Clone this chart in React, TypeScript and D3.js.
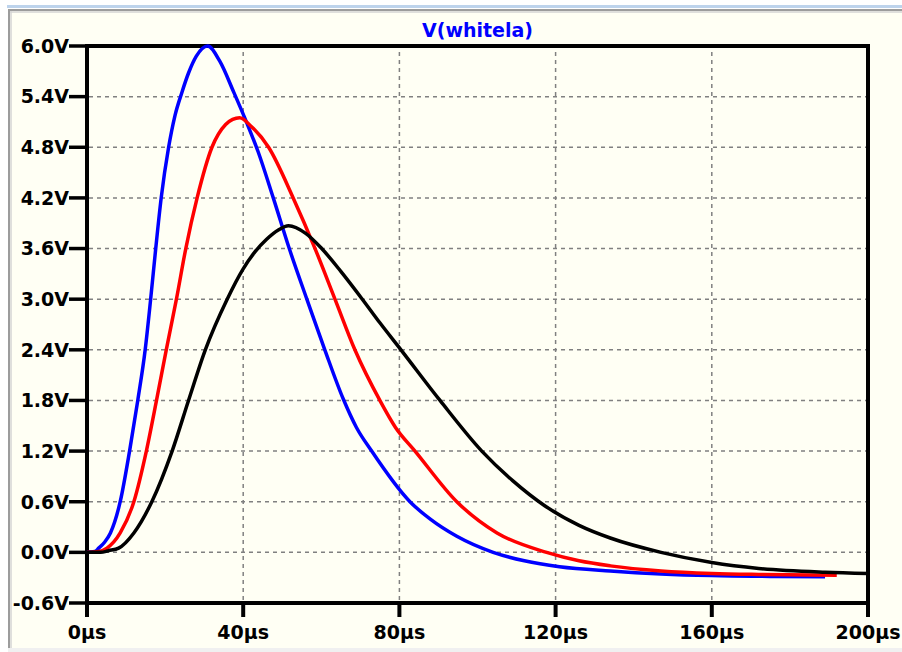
import { curveMonotoneX, line, scaleLinear } from "d3";

const WIDTH = 902;
const HEIGHT = 652;

const PLOT = { left: 87, right: 868, top: 46, bottom: 603 };

const TITLE = "V(whitela)";

const timeTicks = [0, 40, 80, 120, 160, 200];
const timeTickLabels = ["0µs", "40µs", "80µs", "120µs", "160µs", "200µs"];
const voltTicks = [-0.6, 0, 0.6, 1.2, 1.8, 2.4, 3.0, 3.6, 4.2, 4.8, 5.4, 6.0];
const voltTickLabels = ["-0.6V", "0.0V", "0.6V", "1.2V", "1.8V", "2.4V", "3.0V", "3.6V", "4.2V", "4.8V", "5.4V", "6.0V"];

// blue trace
const blueTimes = [0, 2, 3, 4.5, 6, 8.5, 10.9, 13, 14.9, 16.3, 17.6, 19, 20.9, 22.5, 24.3, 26, 28, 30.9, 34, 37.6, 41, 43.8, 47.7, 51.8, 56.3, 60.9, 65.6, 69, 72.9, 82.7, 88, 94.7, 104, 112, 121, 134, 147, 160, 175, 189];
const blueVolts = [0, 0.01, 0.05, 0.12, 0.23, 0.6, 1.2, 1.8, 2.4, 3.0, 3.6, 4.2, 4.8, 5.17, 5.45, 5.68, 5.88, 6.0, 5.82, 5.45, 5.08, 4.75, 4.2, 3.6, 3.0, 2.4, 1.82, 1.48, 1.2, 0.6, 0.39, 0.19, 0.0, -0.1, -0.17, -0.22, -0.255, -0.275, -0.285, -0.29];

// red trace
const redTimes = [0, 3, 5.1, 8.5, 12, 15.2, 17.8, 20.3, 22.9, 25.3, 28.2, 32, 35.5, 37.3, 39.1, 42, 46.5, 52.8, 58.4, 63.5, 68.6, 75, 79, 84, 94.7, 105, 117.7, 126, 134, 147, 160, 172, 192];
const redVolts = [0, 0.01, 0.05, 0.23, 0.6, 1.2, 1.8, 2.4, 3.0, 3.6, 4.2, 4.8, 5.07, 5.13, 5.15, 5.05, 4.8, 4.2, 3.6, 3.0, 2.4, 1.8, 1.48, 1.2, 0.6, 0.23, 0.0, -0.1, -0.16, -0.22, -0.25, -0.262, -0.27];

// black trace
const blackTimes = [0, 3.5, 5.5, 8.1, 12, 16.6, 21.8, 26, 30.3, 35.9, 40, 43, 46, 49, 51.6, 56, 60.1, 65, 70.5, 75, 80.4, 90.4, 101.1, 109, 117.3, 126, 134, 147, 160, 172, 189, 200];
const blackVolts = [0, 0, 0.02, 0.05, 0.23, 0.6, 1.2, 1.8, 2.4, 3.0, 3.36, 3.56, 3.71, 3.82, 3.87, 3.78, 3.6, 3.33, 3.0, 2.72, 2.4, 1.8, 1.2, 0.85, 0.55, 0.32, 0.17, 0.0, -0.12, -0.19, -0.235, -0.25];

const FONT = "'DejaVu Sans', Verdana, sans-serif";

function App() {
  const x = scaleLinear().domain([0, 200]).range([PLOT.left, PLOT.right]);
  const y = scaleLinear().domain([-0.6, 6.0]).range([PLOT.bottom, PLOT.top]);

  const pathFor = (times: number[], volts: number[]) =>
    line<number>()
      .x((_, i) => x(times[i]))
      .y((v) => y(v))
      .curve(curveMonotoneX)(volts) ?? "";

  const traces = [
    { color: "#0000ff", d: pathFor(blueTimes, blueVolts) },
    { color: "#ff0000", d: pathFor(redTimes, redVolts) },
    { color: "#000000", d: pathFor(blackTimes, blackVolts) },
  ];

  return (
    <svg
      width={WIDTH}
      height={HEIGHT}
      viewBox={`0 0 ${WIDTH} ${HEIGHT}`}
      style={{ position: "absolute", left: 0, top: 0, display: "block" }}
      fontFamily={FONT}
      fontWeight="bold"
    >
      <rect x={0} y={0} width={WIDTH} height={HEIGHT} fill="#ffffff" />
      {/* window chrome */}
      <rect x={7} y={5} width={WIDTH - 7} height={3} fill="#bdd3ec" />
      <rect x={8} y={9} width={WIDTH - 8} height={HEIGHT - 13} fill="#fffff4" />
      <line x1={8} y1={10} x2={WIDTH} y2={10} stroke="#9c9c9c" strokeWidth={2} />
      <line x1={8} y1={12} x2={WIDTH} y2={12} stroke="#d4d4d4" strokeWidth={1.5} />
      <line x1={9} y1={9} x2={9} y2={648} stroke="#9c9c9c" strokeWidth={2} />
      <line x1={11} y1={11} x2={11} y2={648} stroke="#d4d4d4" strokeWidth={1.5} />
      <rect x={8} y={648} width={WIDTH - 8} height={4} fill="#f0f0f0" />

      {/* grid */}
      {voltTicks.slice(1, -1).map((v) => (
        <line
          key={`gy${v}`}
          x1={PLOT.left + 2}
          x2={PLOT.right - 2}
          y1={y(v)}
          y2={y(v)}
          stroke="#808080"
          strokeWidth={1.5}
          strokeDasharray="4,4"
        />
      ))}
      {timeTicks.slice(1, -1).map((t) => (
        <line
          key={`gx${t}`}
          x1={x(t)}
          x2={x(t)}
          y1={PLOT.top + 6}
          y2={PLOT.bottom - 2}
          stroke="#808080"
          strokeWidth={1.5}
          strokeDasharray="4,4"
        />
      ))}

      {/* frame and ticks */}
      <rect
        x={PLOT.left}
        y={PLOT.top}
        width={PLOT.right - PLOT.left}
        height={PLOT.bottom - PLOT.top}
        fill="none"
        stroke="#000"
        strokeWidth={4}
      />
      {voltTicks.map((v, i) => (
        <g key={`ty${v}`}>
          <line x1={PLOT.left - 18} x2={PLOT.left} y1={y(v)} y2={y(v)} stroke="#000" strokeWidth={3.5} />
          <text x={PLOT.left - 18} y={y(v)} dy="0.36em" textAnchor="end" fontSize={19} fill="#000">
            {voltTickLabels[i]}
          </text>
        </g>
      ))}
      {timeTicks.map((t, i) => (
        <g key={`tx${t}`}>
          <line x1={x(t)} x2={x(t)} y1={PLOT.bottom} y2={PLOT.bottom + 14} stroke="#000" strokeWidth={4} />
          <text x={x(t)} y={639} textAnchor="middle" fontSize={19} fill="#000">
            {timeTickLabels[i]}
          </text>
        </g>
      ))}

      {/* traces */}
      {traces.map((tr) => (
        <path key={tr.color} d={tr.d} fill="none" stroke={tr.color} strokeWidth={3.5} strokeLinejoin="round" />
      ))}

      <text x={(PLOT.left + PLOT.right) / 2} y={37} textAnchor="middle" fontSize={19} fill="#0000ff">
        {TITLE}
      </text>
    </svg>
  );
}

export default App;
